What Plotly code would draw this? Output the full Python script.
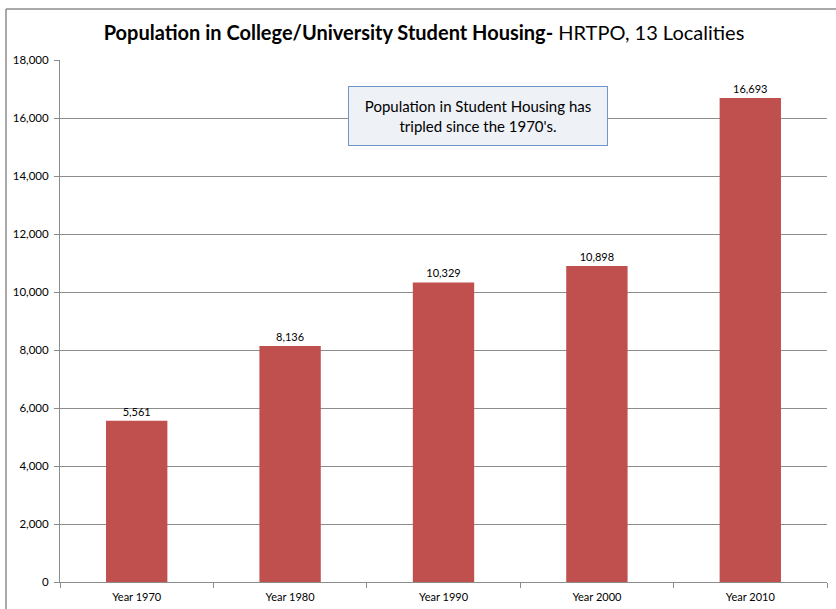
import plotly.graph_objects as go

# data
years = ["Year 1970", "Year 1980", "Year 1990", "Year 2000", "Year 2010"]
population = [5561, 8136, 10329, 10898, 16693]
y_ticks = [0, 2000, 4000, 6000, 8000, 10000, 12000, 14000, 16000, 18000]

BAR = "#C0504D"; GRID = "#8C8C8C"; FONT = "Lato, 'Open Sans', sans-serif"
W, H = 836, 609
ML, MR, MT, MB = 60, 9, 60, 27
pw, ph = W - ML - MR, H - MT - MB

def px(x):  # pixel -> paper x
    return (x - ML) / pw

def py(y):  # pixel -> paper y
    return (H - MB - y) / ph

fig = go.Figure(go.Bar(
    x=years, y=population, width=0.4, marker=dict(color=BAR, line=dict(width=0)),
    text=[f"{v:,}" for v in population], textposition="outside", cliponaxis=False,
    textfont=dict(size=11, color="black", family=FONT),
))

fig.update_layout(
    width=W, height=H, margin=dict(l=ML, r=MR, t=MT, b=MB, autoexpand=False),
    plot_bgcolor="white", paper_bgcolor="white", showlegend=False,
    font=dict(family=FONT, size=11, color="black"),
    title=dict(text="<b>Population in College/University Student Housing-</b> HRTPO, 13 Localities",
               x=424 / W, y=1 - 33 / H, xref="container", yref="container",
               xanchor="center", yanchor="middle", font=dict(size=20, family=FONT, color="black")),
)
fig.update_xaxes(showgrid=False, showline=True, linecolor=GRID, linewidth=1, automargin=False,
                 ticks="outside", tickson="boundaries", ticklen=5, tickcolor=GRID,
                 tickfont=dict(size=11), ticklabelstandoff=5)
fig.update_yaxes(range=[0, 18000], tickvals=y_ticks, tickformat=",", showgrid=True, automargin=False,
                 gridcolor=GRID, gridwidth=1, showline=True, linecolor=GRID, linewidth=1,
                 ticks="outside", ticklen=5, tickcolor=GRID, tickfont=dict(size=11.5),
                 ticklabelstandoff=3, zeroline=False)

# outer chart border (top and left edges; the rest runs off the page)
border = dict(color="#8C8C8C", width=1.5)
fig.add_shape(type="line", xref="paper", yref="paper", x0=px(6), x1=px(836), y0=py(9), y1=py(9), line=border)
fig.add_shape(type="line", xref="paper", yref="paper", x0=px(6), x1=px(6), y0=py(609), y1=py(9), line=border)

# callout box
fig.add_annotation(xref="paper", yref="paper", x=px(478), y=py(116), xanchor="center", yanchor="middle",
                   text="Population in Student Housing has<br>tripled since the 1970's.",
                   showarrow=False, width=256, height=56, align="center",
                   font=dict(size=15, family=FONT, color="black"),
                   bgcolor="#EEF1F6", bordercolor="#7095C8", borderwidth=1)

fig.write_html("out.html", config={"displayModeBar": False},
               post_script="document.body.style.margin='0';")
